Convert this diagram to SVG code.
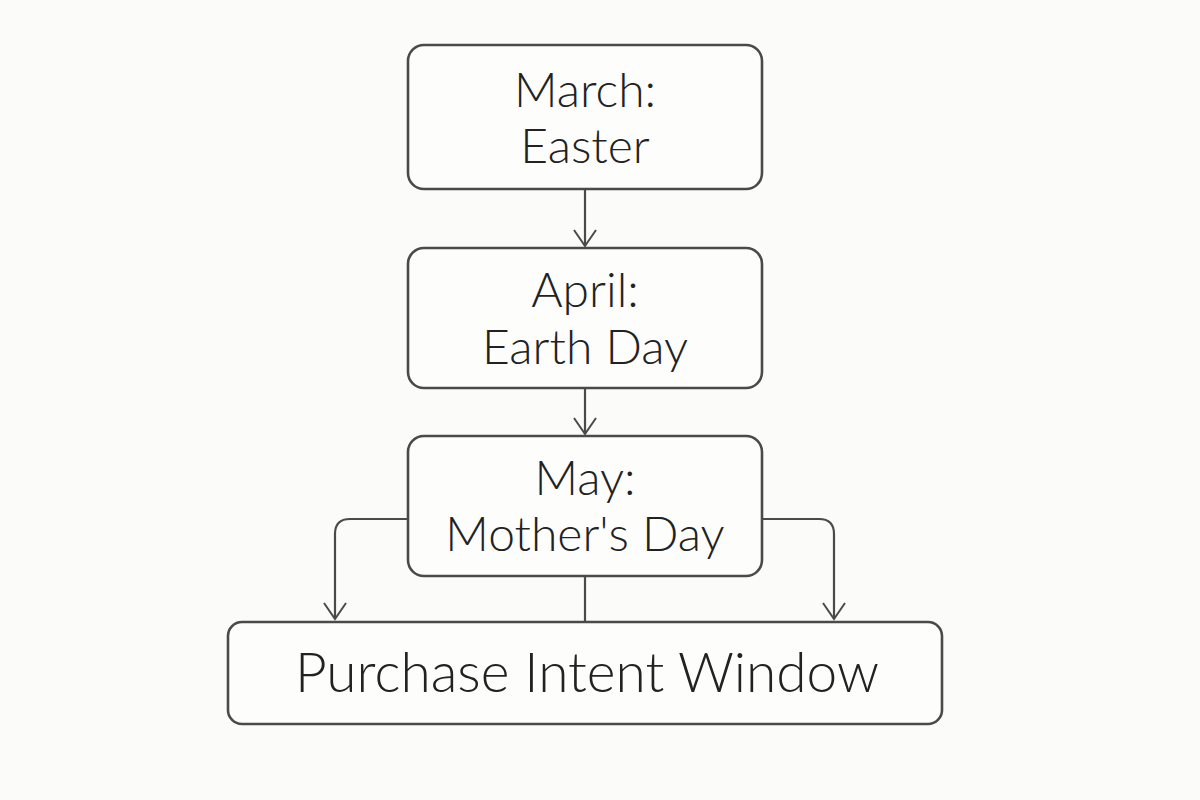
<svg xmlns="http://www.w3.org/2000/svg" width="1200" height="800" viewBox="0 0 1200 800">
<defs>
<style>
.box{fill:#fdfdfc;stroke:#4a4a4a;stroke-width:2.6}
.lbl{font-family:Lato,"Open Sans","DejaVu Sans",sans-serif;font-size:48px;font-weight:300;fill:#222;text-anchor:middle}
.big{font-size:55px}
.con{fill:none;stroke:#4a4a4a;stroke-width:2.2}
</style>
<marker id="arr" viewBox="0 0 22 24" refX="20" refY="12" markerWidth="22" markerHeight="24" markerUnits="userSpaceOnUse" orient="auto">
<path d="M4 1 L20 12 L4 23" fill="none" stroke="#4a4a4a" stroke-width="2"/>
</marker>
</defs>
<rect width="1200" height="800" fill="#fbfbf9"/>
<g id="connectors">
<path class="con" d="M585 189 V246" marker-end="url(#arr)"/>
<path class="con" d="M585 388 V434" marker-end="url(#arr)"/>
<path class="con" d="M585 576 V622"/>
<path class="con" d="M408 519 H350 Q335 519 335 534 V619" marker-end="url(#arr)"/>
<path class="con" d="M762 519 H819 Q834 519 834 534 V619" marker-end="url(#arr)"/>
</g>
<g id="march">
<rect class="box" x="408" y="45" width="354" height="144" rx="16"/>
<text class="lbl" x="585" y="107">March:</text>
<text class="lbl" x="585" y="163">Easter</text>
</g>
<g id="april">
<rect class="box" x="408" y="248" width="354" height="140" rx="16"/>
<text class="lbl" x="585" y="307">April:</text>
<text class="lbl" x="585" y="364">Earth Day</text>
</g>
<g id="may">
<rect class="box" x="408" y="436" width="354" height="140" rx="16"/>
<text class="lbl" x="585" y="495">May:</text>
<text class="lbl" x="585" y="551">Mother's Day</text>
</g>
<g id="purchase">
<rect class="box" x="228" y="622" width="714" height="102" rx="14"/>
<text class="lbl big" x="587" y="692">Purchase Intent Window</text>
</g>
</svg>
